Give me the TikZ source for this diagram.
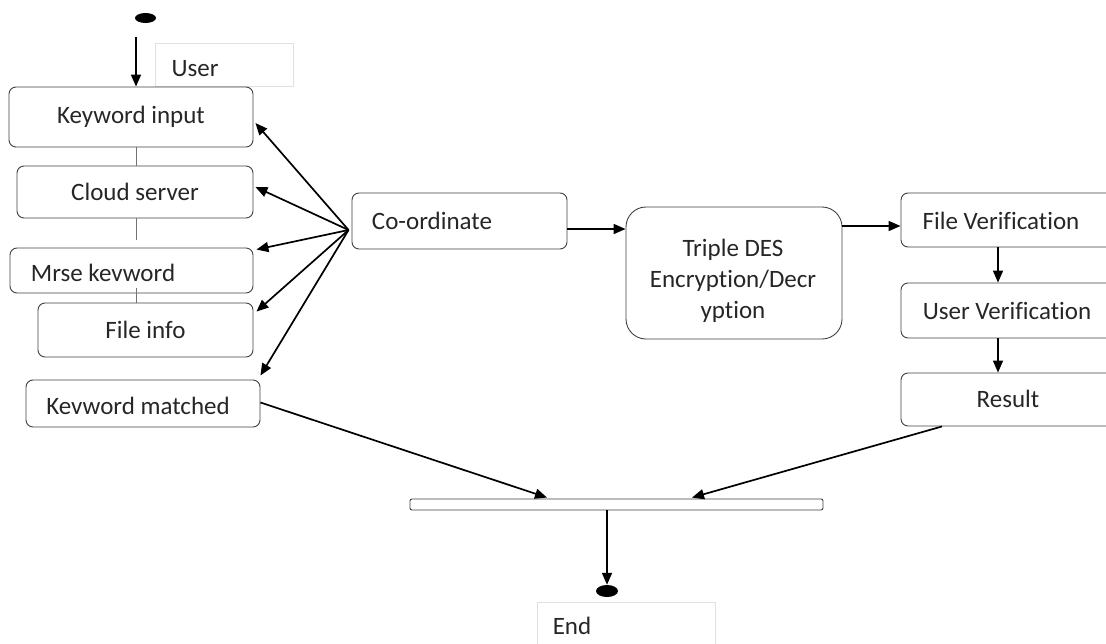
\documentclass[tikz,border=0pt]{standalone}
\usepackage{fontspec}
\setmainfont[Ligatures=NoCommon,RawFeature={-liga;-clig}]{Carlito}
\usetikzlibrary{arrows.meta,calc,shapes.geometric}
\begin{document}
\begin{tikzpicture}[x=1pt,y=-1pt,
 box/.style={draw=black!75, line width=0.9pt, rounded corners=7pt, inner sep=0pt, font=\fontsize{25}{31}\selectfont, text=black!85},
 lbl/.style={inner sep=0pt, font=\fontsize{25}{31}\selectfont, text=black!85, align=center},
 arr/.style={line width=1.7pt, -{Triangle[length=12pt,width=10pt]}},
 link/.style={draw=black!55, line width=0.8pt},
 tag/.style={draw=black!12, line width=0.8pt, inner sep=0pt},
 dot/.style={ellipse, fill=black, inner sep=0pt}]
\useasboundingbox (0,0) rectangle (1106,643);

% start / end
\node[dot, minimum width=21pt, minimum height=10pt] (start) at (145.5,18) {};
\node[tag, minimum width=138pt, minimum height=43pt] (userbox) at (224,64.5) {};
\node[lbl] (usert) at (195,69) {User};

% left column
\node[box, minimum width=244pt, minimum height=60pt] (kw) at (131,117) {Keyword input};
\node[box, minimum width=236pt, minimum height=52pt] (cs) at (135,192) {Cloud server};
\node[box, minimum width=243pt, minimum height=45pt] (mk) at (131.5,270.5) {};
\node[lbl] (mkt) at (103,273) {Mrse kevword};
\node[box, minimum width=215pt, minimum height=54pt] (fi) at (145.5,330) {File info};
\node[box, minimum width=234pt, minimum height=47pt] (km) at (143,403.5) {};
\node[lbl] (kmt) at (138,406) {Kevword matched};

% middle
\node[box, minimum width=215pt, minimum height=56pt] (co) at (459.5,221) {};
\node[lbl] (cot) at (432,221) {Co-ordinate};
\node[box, rounded corners=20pt, minimum width=216pt, minimum height=132pt] (tdes) at (734,273) {};
\node[lbl] (tdest) at (733,281) {Triple DES\\Encryption/Decr\\yption};

% right column
\node[box, minimum width=219pt, minimum height=54pt] (fv) at (1010.5,220) {};
\node[lbl] (fvt) at (1001,221) {File Verification};
\node[box, minimum width=219pt, minimum height=55pt] (uv) at (1010.5,310.5) {};
\node[lbl] (uvt) at (1007,311) {User Verification};
\node[box, minimum width=219pt, minimum height=53pt] (res) at (1010.5,399.5) {};
\node[lbl] (rest) at (1008,399) {Result};

% join bar and end
\node[draw=black!75, line width=0.9pt, rounded corners=2pt, minimum width=413pt, minimum height=11pt, inner sep=0pt] (bar) at (616.5,504.5) {};
\node[dot, minimum width=22pt, minimum height=12pt] (enddot) at (607,591) {};
\node[tag, minimum width=178pt, minimum height=58pt] (endbox) at (626,631) {};
\node[lbl] (endt) at (572,626) {End};

% connectors
\draw[arr] ([xshift=-9.5pt,yshift=-14pt]start.south) -- ([xshift=5pt]kw.north);
\draw[link] ([xshift=5pt]kw.south) -- ([xshift=5pt]kw.south |- cs.north);
\draw[link] ([xshift=1pt]cs.south) -- ++(0,22);
\draw[link] ([xshift=4.5pt,yshift=5pt]mk.south) -- ([xshift=4.5pt]mk.south |- fi.north);

\coordinate (hub) at ([shift={(-3pt,-9pt)}]co.west);
\draw[arr] (hub) -- ([shift={(2pt,-6pt)}]kw.east);
\draw[arr] (hub) -- ([shift={(2pt,5pt)}]cs.east);
\draw[arr] (hub) -- ([shift={(3pt,-2pt)}]mk.north east);
\draw[arr] (hub) -- ([shift={(3pt,-9pt)}]fi.north east);
\draw[arr] (hub) -- ([yshift=4pt]km.north east);

\draw[arr] ([yshift=-8pt]co.east) -- ([yshift=-8pt]co.east -| tdes.west);
\draw[arr] ([yshift=-6pt]fv.west -| tdes.east) -- ([yshift=-6pt]fv.west);
\draw[arr] ([xshift=-12.5pt]fv.south) -- ([xshift=-12.5pt]uv.north);
\draw[arr] ([xshift=-12.5pt]uv.south) -- ([xshift=-12.5pt]res.north);

\draw[arr] ([yshift=1pt]km.east) -- ([xshift=-69.5pt,yshift=1pt]bar.north);
\draw[arr] ([xshift=-68.5pt]res.south) -- ([xshift=75.5pt,yshift=1pt]bar.north);
\draw[arr] ([xshift=-9.5pt]bar.south) -- (enddot.north);
\end{tikzpicture}
\end{document}
